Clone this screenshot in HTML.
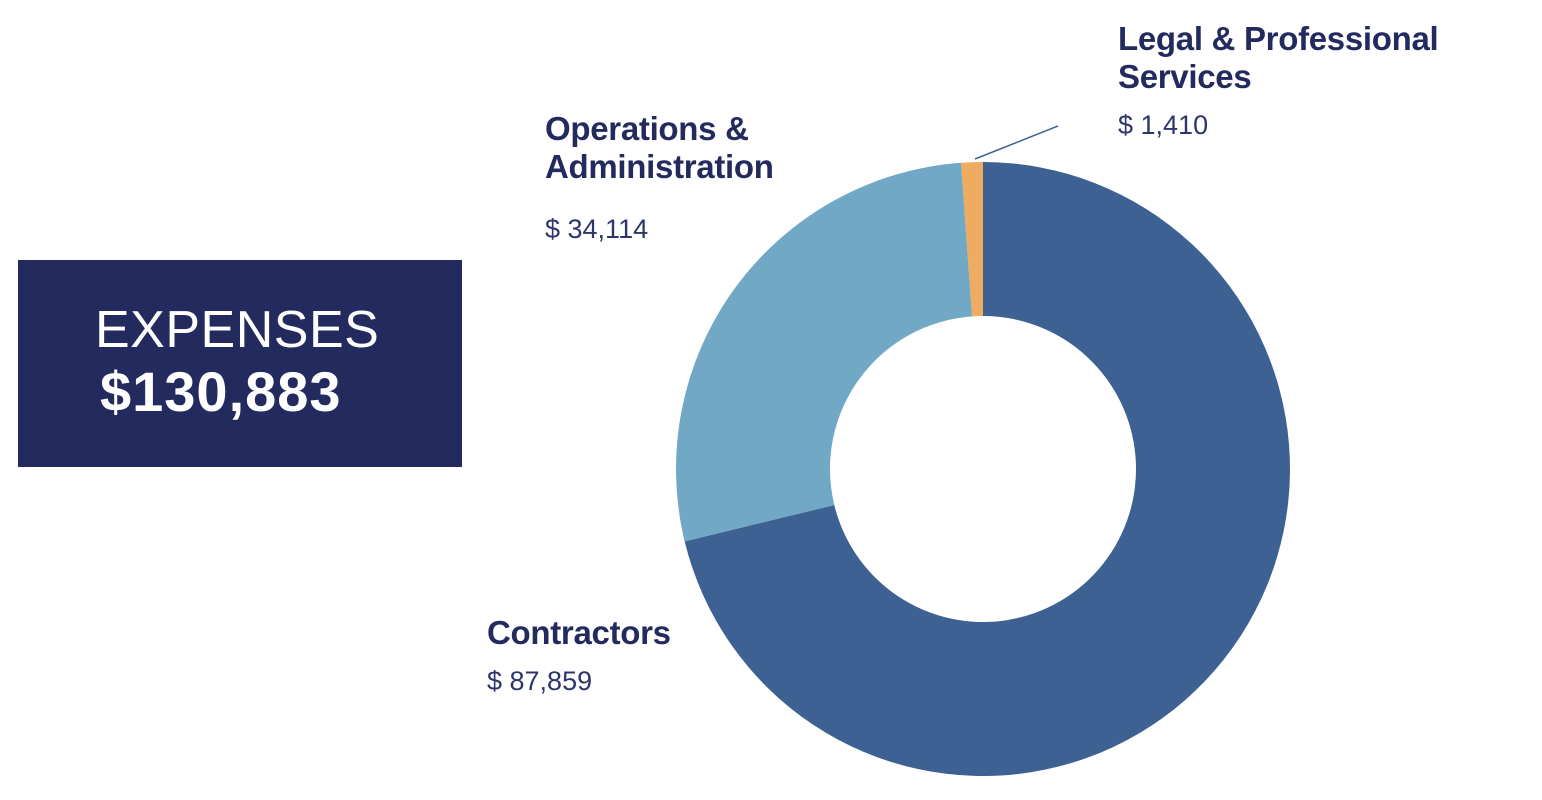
<!DOCTYPE html>
<html><head><meta charset="utf-8"><style>
body{margin:0;width:1542px;height:800px;background:#fff;position:relative;overflow:hidden;font-family:"Liberation Sans",sans-serif;color:#232a5e}
.box{position:absolute;left:18px;top:260px;width:444px;height:207px;background:#222a5e;color:#fff}
.lbl{position:absolute;font-weight:bold;font-size:33px;line-height:38px;letter-spacing:-0.3px}
.val{position:absolute;font-size:27px;letter-spacing:0;color:#2e356a}
</style></head><body>
<div class="box">
<div style="position:absolute;left:77px;top:40px;font-size:52px;letter-spacing:0.5px">EXPENSES</div>
<div style="position:absolute;left:82px;top:99px;font-size:56px;font-weight:bold;letter-spacing:1px">$130,883</div>
</div>
<svg id="chart" width="1542" height="800" style="position:absolute;left:0;top:0">
<line x1="975" y1="159" x2="1058" y2="126" stroke="#3c6192" stroke-width="1.5"/>
</svg>
<div class="lbl" style="left:1118px;top:20px">Legal &amp; Professional<br>Services</div>
<div class="val" style="left:1118px;top:110px">$ 1,410</div>
<div class="lbl" style="left:545px;top:110px">Operations &amp;<br>Administration</div>
<div class="val" style="left:545px;top:214px">$ 34,114</div>
<div class="lbl" style="left:487px;top:614px">Contractors</div>
<div class="val" style="left:487px;top:666px">$ 87,859</div>
<script>
const categories=["Contractors","Operations & Administration","Legal & Professional Services"];
const values=[87859,34114,1410];
const colors=["#3c6192","#71a8c5","#eeac60"];
const cx=983,cy=469,R=307,r=153;
const svg=document.getElementById('chart');
const total=values.reduce((a,b)=>a+b,0);
function pt(a,rad){return [cx+rad*Math.sin(a),cy-rad*Math.cos(a)];}
let a0=0;
values.forEach((v,i)=>{
  const a1=a0+v/total*2*Math.PI;
  const large=(a1-a0)>Math.PI?1:0;
  const p1=pt(a0,R),p2=pt(a1,R),p3=pt(a1,r),p4=pt(a0,r);
  const p=document.createElementNS('http://www.w3.org/2000/svg','path');
  p.setAttribute('d',`M${p1} A${R},${R} 0 ${large} 1 ${p2} L${p3} A${r},${r} 0 ${large} 0 ${p4} Z`);
  p.setAttribute('fill',colors[i]);
  
  
  svg.insertBefore(p,svg.firstChild);
  a0=a1;
});
</script>
</body></html>
